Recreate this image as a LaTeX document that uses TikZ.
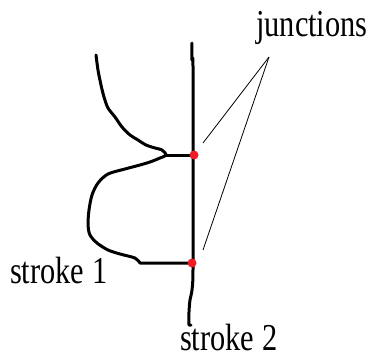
\documentclass[tikz,border=0pt]{standalone}
\usepackage{fontspec}
\setmainfont{Liberation Serif}
\usepackage{xcolor}
\usetikzlibrary{positioning}
\definecolor{junRed}{HTML}{EE1C24}
\tikzset{
  stroke/.style={line width=3pt, line join=round, line cap=round},
  junction/.style={circle, fill=junRed, inner sep=0pt, minimum size=9pt},
  pointer/.style={line width=0.8pt},
  lbl/.style={font=\fontsize{38}{38}\selectfont, inner sep=0pt, xscale=0.8, anchor=base west}
}
\begin{document}
\begin{tikzpicture}[x=1pt, y=-1pt]
\useasboundingbox (0,0) rectangle (373,362);
  \draw[stroke] plot[smooth, tension=0.5] coordinates {(192,43) (192,60) (193,66) (193,180) (193,270) (192,290) (190,300) (189,312) (189,325)} -- (191,325);
  \draw[stroke] plot[smooth, tension=0.5] coordinates {(96,55) (98,70) (101,85) (104,97) (108,108) (115,117) (122,127) (130,135) (138,140) (146,145) (155,148) (162,150) (166,155) (160,158) (150,162) (140,165) (125,169) (108,174) (98,183) (92,195) (89,210) (88,225) (90,235) (97,243) (108,250) (120,254) (135,258) (140,263)} -- (192,263);
  \draw[stroke] (166,155) -- (194,155);
  \node[junction] (j1) at (194,155) {};
  \node[junction] (j2) at (192,263) {};
  \node[lbl] (jlabel) at (256,36) {junctions};
  \node[lbl] (s1) at (10,283) {stroke 1};
  \node[lbl] (s2) at (180,350) {stroke 2};
  \coordinate (jtip) at (269,57);
  \coordinate (e1) at (203,143);
  \coordinate (e2) at (203,250);
  \draw[pointer] (jtip) -- (e1);
  \draw[pointer] (jtip) -- (e2);
\end{tikzpicture}
\end{document}
